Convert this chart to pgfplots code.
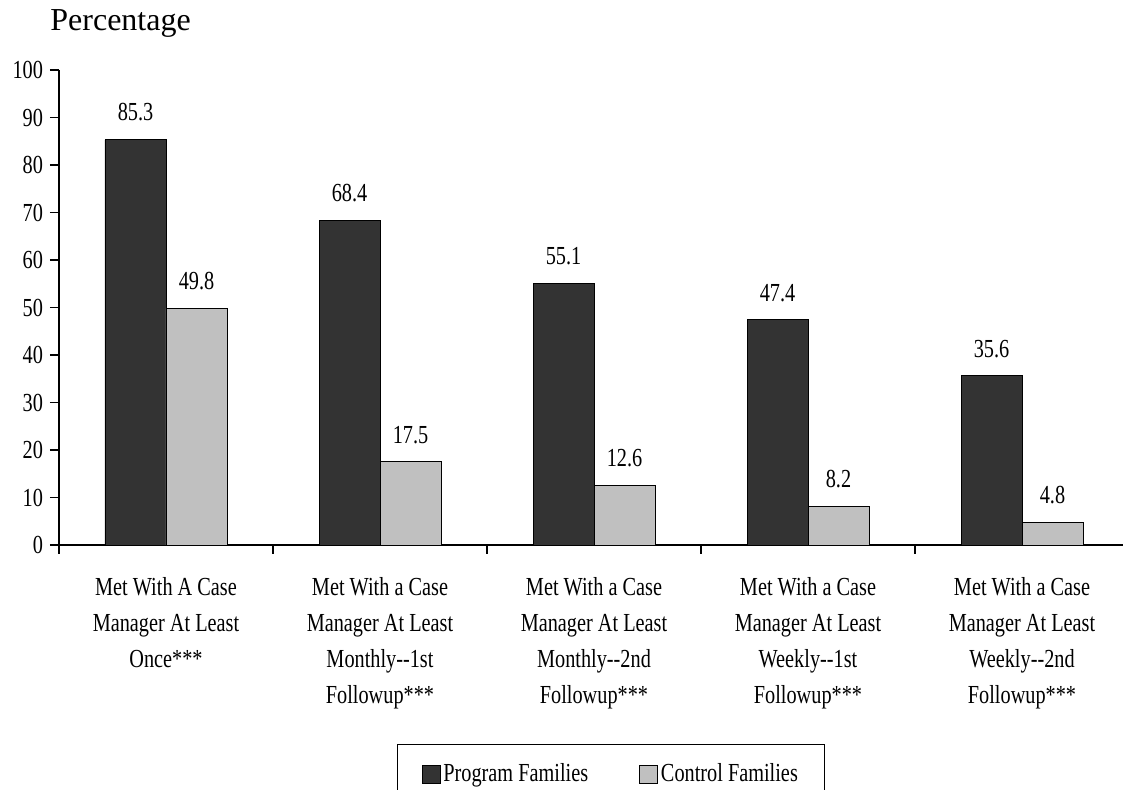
\documentclass[border=0pt]{standalone}
\usepackage{pgfplots}
\pgfplotsset{compat=1.18}
\usepackage{fontspec}
\setmainfont{Liberation Serif}
\newfontfamily\cond[FakeStretch=0.78]{Liberation Serif}
\definecolor{darkbar}{HTML}{333333}
\definecolor{lightbar}{HTML}{C0C0C0}
\newcommand{\cf}{\cond\fontsize{13}{18}\selectfont}
\begin{document}
\begin{tikzpicture}
\useasboundingbox (-29.5pt,-122.5pt) rectangle (532pt,272.5pt);
\begin{axis}[
  at={(0,0)}, anchor=south west, scale only axis,
  width=535pt, height=237.5pt,
  ymin=0, ymax=100, ytick={0,10,20,30,40,50,60,70,80,90,100},
  xmin=-0.5, xmax=4.5,
  axis x line=bottom, axis y line=left,
  axis line style={-, line width=0.6pt},
  tick align=outside,
  major tick length=4.5pt,
  tick style={line width=0.6pt, black},
  /pgf/number format/assume math mode=true,
  yticklabel style={font=\cf},
  xtick={-0.5,0.5,1.5,2.5,3.5,4.5},
  x tick label as interval,
  xticklabels={{Met With A Case\\Manager At Least\\Once***},
               {Met With a Case\\Manager At Least\\Monthly--1st\\Followup***},
               {Met With a Case\\Manager At Least\\Monthly--2nd\\Followup***},
               {Met With a Case\\Manager At Least\\Weekly--1st\\Followup***},
               {Met With a Case\\Manager At Least\\Weekly--2nd\\Followup***}},
  xticklabel style={font=\cf, align=center, yshift=-8pt},
  ybar=0pt, bar width=30.5pt,
  nodes near coords,
  nodes near coords style={font=\cf, yshift=5.7pt,
    /pgf/number format/.cd, fixed, fixed zerofill, precision=1},
  legend columns=2,
  legend image code/.code={\draw[#1] (0pt,-4.5pt) rectangle (9pt,4.5pt);},
  legend style={at={(0.3159,-0.419)}, anchor=north west, draw=black,
    line width=0.6pt, font=\cf, inner xsep=12pt, inner ysep=7.5pt,
    /tikz/every even column/.append style={column sep=24pt},
    nodes={inner xsep=1.5pt}},
]
\addplot[fill=darkbar, draw=black, line width=0.4pt] coordinates {(0,85.3) (1,68.4) (2,55.1) (3,47.4) (4,35.6)};
\addlegendentry{Program Families}
\addplot[fill=lightbar, draw=black, line width=0.4pt] coordinates {(0,49.8) (1,17.5) (2,12.6) (3,8.2) (4,4.8)};
\addlegendentry{Control Families}
\end{axis}
\node[anchor=base west, font=\fontsize{16}{19}\selectfont, inner sep=0pt] at (-4.5pt,257pt) {Percentage};
\end{tikzpicture}
\end{document}
